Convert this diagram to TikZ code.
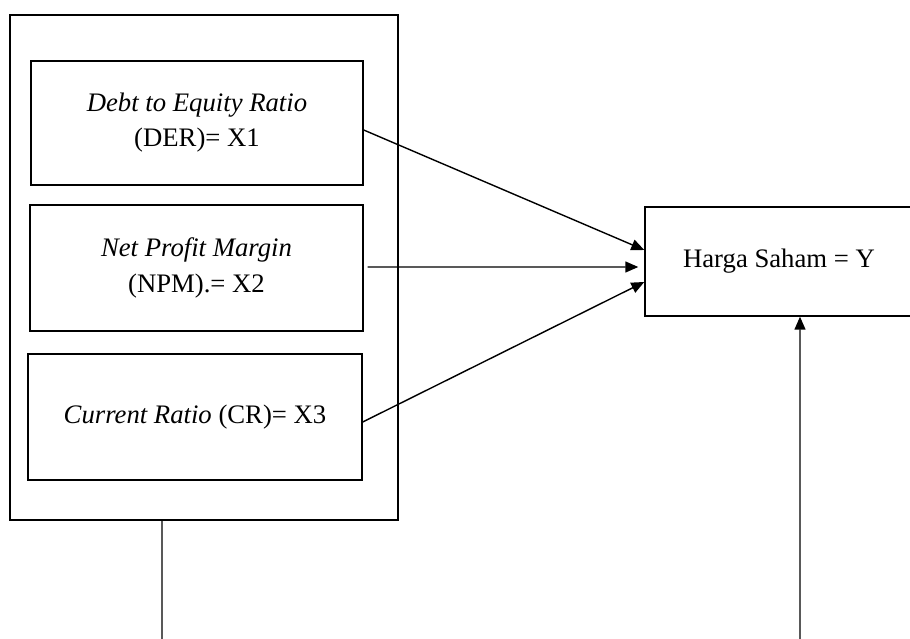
\documentclass[tikz,border=0pt]{standalone}
\usepackage{fontspec}
\setmainfont{Liberation Serif}
\usetikzlibrary{arrows.meta}

\begin{document}
\begin{tikzpicture}[x=0.02cm, y=-0.02cm,
  box/.style={draw, line width=0.8pt, rectangle, align=center, inner sep=0pt},
  link/.style={line width=0.8pt, -{Triangle[length=0.26cm,width=0.22cm]}}]
\useasboundingbox (0,0) rectangle (910,639);
\clip (0,0) rectangle (910,639);
\fontsize{15.2}{20}\selectfont
% outer frame
\node[box, minimum width=388*0.02cm, minimum height=505*0.02cm] (frame) at (204,267.5) {};
% variables
\node[box, minimum width=332*0.02cm, minimum height=124*0.02cm] (der) at (197,123) {\textit{Debt to Equity Ratio}\\(DER)= X1};
\node[box, minimum width=333*0.02cm, minimum height=126*0.02cm] (npm) at (196.5,268) {\textit{Net Profit Margin}\\(NPM).= X2};
\node[box, minimum width=334*0.02cm, minimum height=126*0.02cm] (cr) at (195,417) {\textit{Current Ratio} (CR)= X3};
\node[box, minimum width=268*0.02cm, minimum height=109*0.02cm] (harga) at (779,261.5) {Harga Saham = Y};
% ends below
\coordinate (lowleft) at (162,645);
\coordinate (lowright) at (800,645);
% connectors
\draw[link] ([yshift=-0.14cm]der.east) -- ([yshift=0.23cm]harga.west);
\draw[link] ([xshift=0.08cm,yshift=0.02cm]npm.east) -- ([xshift=-0.12cm,yshift=-0.11cm]harga.west);
\draw[link] ([yshift=-0.1cm]cr.east) -- ([yshift=-0.41cm]harga.west);
\draw[line width=0.8pt] ([xshift=-0.84cm]frame.south) -- (lowleft);
\draw[link] (lowright) -- ([xshift=0.42cm]harga.south);
\end{tikzpicture}
\end{document}
